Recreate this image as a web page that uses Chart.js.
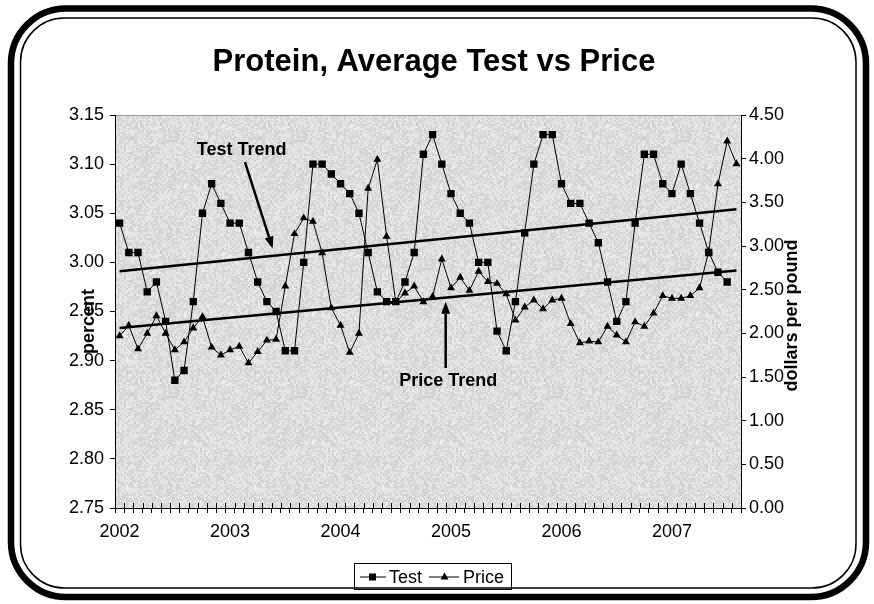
<!DOCTYPE html>
<html>
<head>
<meta charset="utf-8">
<script src="https://cdn.jsdelivr.net/npm/chart.js@4"></script>
<style>
  html, body { margin: 0; padding: 0; background: #fff; }
  canvas { display: block; }
</style>
</head>
<body>
<canvas id="proteinChart" width="874" height="604"></canvas>
<script>
// categories: monthly, Jan 2002 .. Aug 2007
const years = ['2002', '2003', '2004', '2005', '2006', '2007'];
const monthNames = ['Jan', 'Feb', 'Mar', 'Apr', 'May', 'Jun', 'Jul', 'Aug', 'Sep', 'Oct', 'Nov', 'Dec'];
const months = [];
years.forEach(y => monthNames.forEach(m => months.push(m + ' ' + y)));
const labels = months.slice(0, 68);

// protein test, percent (left axis)
const testValues = [
    3.04, 3.01, 3.01, 2.97, 2.98, 2.94, 2.88, 2.89, 2.96, 3.05, 3.08, 3.06,
    3.04, 3.04, 3.01, 2.98, 2.96, 2.95, 2.91, 2.91, 3.00, 3.10, 3.10, 3.09,
    3.08, 3.07, 3.05, 3.01, 2.97, 2.96, 2.96, 2.98, 3.01, 3.11, 3.13, 3.10,
    3.07, 3.05, 3.04, 3.00, 3.00, 2.93, 2.91, 2.96, 3.03, 3.10, 3.13, 3.13,
    3.08, 3.06, 3.06, 3.04, 3.02, 2.98, 2.94, 2.96, 3.04, 3.11, 3.11, 3.08,
    3.07, 3.10, 3.07, 3.04, 3.01, 2.99, 2.98, null
];

// price, dollars per pound (right axis)
const priceValues = [
    1.97, 2.09, 1.82, 2.00, 2.20, 2.00, 1.81, 1.90, 2.06, 2.19, 1.84, 1.75,
    1.81, 1.85, 1.66, 1.79, 1.92, 1.93, 2.54, 3.14, 3.32, 3.28, 2.92, 2.29,
    2.09, 1.78, 2.00, 3.66, 3.99, 3.11, 2.36, 2.46, 2.54, 2.36, 2.42, 2.85,
    2.52, 2.64, 2.49, 2.71, 2.59, 2.57, 2.45, 2.15, 2.30, 2.38, 2.28, 2.38,
    2.40, 2.11, 1.89, 1.91, 1.90, 2.08, 1.98, 1.90, 2.13, 2.08, 2.23, 2.43,
    2.40, 2.40, 2.43, 2.52, 2.94, 3.71, 4.20, 3.94
];

// trend line end values (first and last month)
const testTrend = [2.991, 3.054];
const priceTrend = [2.06, 2.72];

// tick ranges
const leftTicks = { min: 2.75, max: 3.15, step: 0.05 };
const rightTicks = { min: 0, max: 4.5, step: 0.5 };

const FONT = '"Liberation Sans", Arial, sans-serif';

// granite-like fill for the plot area (deterministic hash noise)
function makeTexture() {
    const c = document.createElement('canvas');
    c.width = 128; c.height = 128;
    const g = c.getContext('2d');
    const img = g.createImageData(128, 128);
    const hash = (i, j) => {
        let n = Math.imul(i, 374761393) + Math.imul(j, 668265263);
        n = Math.imul(n ^ (n >>> 13), 1274126177);
        return ((n ^ (n >>> 16)) >>> 0) / 4294967295;
    };
    for (let y = 0; y < 128; y++) {
        for (let x = 0; x < 128; x++) {
            const coarse = hash(x >> 1, y >> 1);
            const fine = hash(x + 500, y + 900);
            const v = Math.round(221 + (coarse - 0.5) * 26 + (fine - 0.5) * 14);
            const k = (y * 128 + x) * 4;
            img.data[k] = v; img.data[k + 1] = v; img.data[k + 2] = v; img.data[k + 3] = 255;
        }
    }
    g.putImageData(img, 0, 0);
    return c;
}
const texture = makeTexture();

function arrow(ctx, x1, y1, x2, y2) {
    const ang = Math.atan2(y2 - y1, x2 - x1);
    const len = 12, half = 4.5;
    const bx = x2 - Math.cos(ang) * len, by = y2 - Math.sin(ang) * len;
    ctx.beginPath();
    ctx.moveTo(x1, y1);
    ctx.lineTo(bx, by);
    ctx.lineWidth = 2.5;
    ctx.stroke();
    ctx.beginPath();
    ctx.moveTo(x2, y2);
    ctx.lineTo(bx + Math.sin(ang) * half, by - Math.cos(ang) * half);
    ctx.lineTo(bx - Math.sin(ang) * half, by + Math.cos(ang) * half);
    ctx.closePath();
    ctx.fill();
}

const decorPlugin = {
    id: 'decor',
    beforeDraw(chart) {
        const ctx = chart.ctx, a = chart.chartArea;
        ctx.save();
        ctx.fillStyle = '#fff';
        ctx.fillRect(0, 0, chart.width, chart.height);
        // rounded frame
        ctx.strokeStyle = '#000';
        ctx.lineWidth = 6.5;
        ctx.beginPath();
        ctx.roundRect(11, 8.5, 855, 588.5, 55);
        ctx.stroke();
        ctx.lineWidth = 1.5;
        ctx.beginPath();
        ctx.roundRect(20.5, 18, 835.5, 570, 44);
        ctx.stroke();
        // plot area
        ctx.fillStyle = ctx.createPattern(texture, 'repeat');
        ctx.fillRect(a.left, a.top, a.right - a.left, a.bottom - a.top);
        ctx.strokeStyle = '#999';
        ctx.lineWidth = 1;
        ctx.beginPath();
        ctx.moveTo(a.left, a.top + 0.5);
        ctx.lineTo(a.right, a.top + 0.5);
        ctx.stroke();
        ctx.restore();
    },
    afterDraw(chart) {
        const ctx = chart.ctx, a = chart.chartArea;
        const xs = chart.scales.x, yl = chart.scales.y, yr = chart.scales.y1;
        ctx.save();
        ctx.fillStyle = '#000';
        ctx.strokeStyle = '#000';

        // upper half of the x-axis tick marks
        ctx.lineWidth = 1;
        const step = (a.right - a.left) / labels.length;
        ctx.beginPath();
        for (let i = 0; i <= labels.length; i++) {
            const x = Math.round(a.left + i * step) + 0.5;
            ctx.moveTo(x, a.bottom - 5);
            ctx.lineTo(x, a.bottom);
        }
        ctx.stroke();

        // title
        ctx.textAlign = 'center';
        ctx.textBaseline = 'middle';
        ctx.font = 'bold 31px ' + FONT;
        ctx.fillText('Protein, Average Test vs Price', 434, 62);

        // axis titles
        ctx.font = 'bold 18px ' + FONT;
        ctx.save();
        ctx.translate(89, (a.top + a.bottom) / 2 + 10);
        ctx.rotate(-Math.PI / 2);
        ctx.fillText('percent', 0, 0);
        ctx.restore();
        ctx.save();
        ctx.translate(792, (a.top + a.bottom) / 2 + 4);
        ctx.rotate(-Math.PI / 2);
        ctx.fillText('dollars per pound', 0, 0);
        ctx.restore();

        // trend annotations
        ctx.font = 'bold 18px ' + FONT;
        ctx.fillText('Test Trend', xs.getPixelForValue(13.26), yl.getPixelForValue(3.114));
        arrow(ctx, xs.getPixelForValue(13.62), yl.getPixelForValue(3.102),
            xs.getPixelForValue(16.63), yl.getPixelForValue(3.014));
        ctx.fillText('Price Trend', xs.getPixelForValue(35.7), yr.getPixelForValue(1.457));
        arrow(ctx, xs.getPixelForValue(35.42), yr.getPixelForValue(1.603),
            xs.getPixelForValue(35.42), yr.getPixelForValue(2.362));

        // legend
        ctx.lineWidth = 1;
        ctx.strokeRect(354.5, 563.5, 157, 26);
        const ly = 577;
        ctx.beginPath();
        ctx.moveTo(360, ly); ctx.lineTo(386, ly);
        ctx.moveTo(429, ly); ctx.lineTo(459, ly);
        ctx.stroke();
        ctx.fillRect(369, ly - 3.5, 7, 7);
        ctx.beginPath();
        ctx.moveTo(444.5, ly - 4.5);
        ctx.lineTo(448.5, ly + 2.5);
        ctx.lineTo(440.5, ly + 2.5);
        ctx.closePath();
        ctx.fill();
        ctx.font = '18px ' + FONT;
        ctx.textAlign = 'left';
        ctx.fillText('Test', 389, ly + 1);
        ctx.fillText('Price', 463, ly + 1);
        ctx.restore();
    }
};

new Chart(document.getElementById('proteinChart'), {
    type: 'line',
    data: {
        labels: labels,
        datasets: [{
            label: 'Test',
            data: testValues,
            yAxisID: 'y',
            borderColor: '#000',
            backgroundColor: '#000',
            borderWidth: 1,
            pointStyle: 'rect',
            pointRadius: 5.2,
            pointBorderWidth: 0,
            pointBackgroundColor: '#000',
            tension: 0
        }, {
            label: 'Price',
            data: priceValues,
            yAxisID: 'y1',
            borderColor: '#000',
            backgroundColor: '#000',
            borderWidth: 1,
            pointStyle: 'triangle',
            pointRadius: 4.6,
            pointBorderWidth: 0,
            pointBackgroundColor: '#000',
            tension: 0
        }, {
            label: 'Test Trend',
            data: [{ x: labels[0], y: testTrend[0] }, { x: labels[labels.length - 1], y: testTrend[1] }],
            yAxisID: 'y',
            borderColor: '#000',
            borderWidth: 2.5,
            pointRadius: 0
        }, {
            label: 'Price Trend',
            data: [{ x: labels[0], y: priceTrend[0] }, { x: labels[labels.length - 1], y: priceTrend[1] }],
            yAxisID: 'y1',
            borderColor: '#000',
            borderWidth: 2.5,
            pointRadius: 0
        }]
    },
    options: {
        responsive: false,
        animation: false,
        layout: { padding: { top: 115, left: 0, right: 0, bottom: 0 } },
        plugins: {
            legend: { display: false },
            title: { display: false },
            tooltip: { enabled: false }
        },
        scales: {
            x: {
                type: 'category',
                offset: true,
                afterFit: s => { s.height = 96; },
                border: { display: true, color: '#000', width: 1 },
                grid: { offset: true, drawOnChartArea: false, tickLength: 5, color: '#000' },
                ticks: {
                    autoSkip: false,
                    maxRotation: 0,
                    minRotation: 0,
                    padding: 8,
                    color: '#000',
                    font: { family: FONT, size: 18 },
                    callback: function (value) {
                        const lab = this.getLabelForValue(value);
                        return lab.startsWith('Jan') ? lab.slice(4) : '';
                    }
                }
            },
            y: {
                position: 'left',
                min: leftTicks.min,
                max: leftTicks.max,
                afterFit: s => { s.width = 115; },
                border: { display: true, color: '#000', width: 1 },
                grid: { drawOnChartArea: false, tickLength: 5, color: '#000' },
                ticks: {
                    stepSize: leftTicks.step,
                    padding: 6,
                    color: '#000',
                    font: { family: FONT, size: 18 },
                    callback: v => v.toFixed(2)
                }
            },
            y1: {
                position: 'right',
                min: rightTicks.min,
                max: rightTicks.max,
                afterFit: s => { s.width = 133; },
                border: { display: true, color: '#000', width: 1 },
                grid: { drawOnChartArea: false, tickLength: 5, color: '#000' },
                ticks: {
                    stepSize: rightTicks.step,
                    padding: 3,
                    color: '#000',
                    font: { family: FONT, size: 18 },
                    callback: v => v.toFixed(2)
                }
            }
        }
    },
    plugins: [decorPlugin]
});
</script>
</body>
</html>
